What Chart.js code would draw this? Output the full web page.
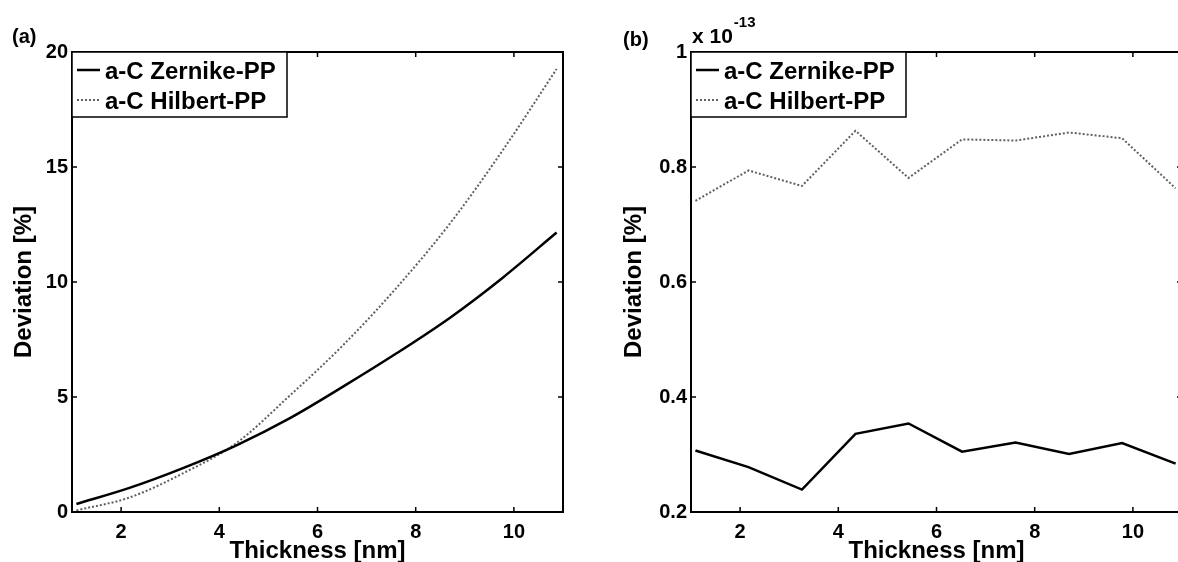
<!DOCTYPE html>
<html lang="en">
<head>
<meta charset="UTF-8">
<title>Deviation vs thickness</title>
<script src="https://cdn.jsdelivr.net/npm/chart.js"></script>
<style>
    html, body { margin: 0; padding: 0; background: #fff; overflow: hidden; }
    #wrap { position: relative; width: 1178px; height: 562px; overflow: hidden; }
    #chartA { position: absolute; left: 0; top: 0; }
    #chartB { position: absolute; left: 590px; top: 0; }
</style>
</head>
<body>
<div id="wrap">
    <canvas id="chartA" width="590" height="562"></canvas>
    <canvas id="chartB" width="600" height="562"></canvas>
</div>

<script>
    // thickness steps (nm)
    const thickness = [1.09, 2.17, 3.26, 4.35, 5.43, 6.52, 7.61, 8.70, 9.78, 10.87];

    // panel (a): deviation in %
    const zernikeA = [0.35, 1.05, 1.91, 2.90, 4.07, 5.45, 6.90, 8.45, 10.20, 12.15];
    const hilbertA = [0.07, 0.63, 1.68, 3.00, 5.05, 7.25, 9.75, 12.55, 15.75, 19.26];

    // panel (b): deviation in units of 1e-13 %
    const zernikeB = [0.307, 0.278, 0.239, 0.336, 0.354, 0.305, 0.321, 0.301, 0.320, 0.284];
    const hilbertB = [0.741, 0.794, 0.767, 0.863, 0.781, 0.848, 0.846, 0.860, 0.850, 0.763];
    const exponentB = -13;

    const xTicks = [2, 4, 6, 8, 10];
    const yTicksA = [0, 5, 10, 15, 20];
    const yTicksB = [0.2, 0.4, 0.6, 0.8, 1];

    const labels = ['a-C Zernike-PP', 'a-C Hilbert-PP'];

    Chart.defaults.font.family = '"Liberation Sans", Arial, sans-serif';
    Chart.defaults.font.weight = 'bold';
    Chart.defaults.color = '#000';

    // frame, inner ticks, legend box and panel tag, MATLAB style
    const matlabFrame = {
        id: 'matlabFrame',
        afterDatasetsDraw(chart, args, opts) {
            const { ctx, chartArea: a, scales: { x, y } } = chart;
            ctx.save();

            ctx.strokeStyle = '#000';
            ctx.lineWidth = 1.5;
            ctx.beginPath();
            x.ticks.forEach(t => {
                const px = x.getPixelForValue(t.value);
                ctx.moveTo(px, a.bottom); ctx.lineTo(px, a.bottom - 5);
                ctx.moveTo(px, a.top); ctx.lineTo(px, a.top + 5);
            });
            y.ticks.forEach(t => {
                const py = y.getPixelForValue(t.value);
                ctx.moveTo(a.left, py); ctx.lineTo(a.left + 5, py);
                ctx.moveTo(a.right, py); ctx.lineTo(a.right - 5, py);
            });
            ctx.stroke();

            ctx.lineWidth = 2;
            ctx.strokeRect(a.left, a.top, a.right - a.left, a.bottom - a.top);

            // legend
            const bx = a.left, by = a.top, bw = 215, bh = 65;
            ctx.fillStyle = '#fff';
            ctx.fillRect(bx, by, bw, bh);
            ctx.lineWidth = 1.5;
            ctx.strokeRect(bx, by, bw, bh);
            ctx.font = 'bold 24px "Liberation Sans", Arial, sans-serif';
            ctx.textBaseline = 'middle';
            ctx.textAlign = 'left';
            chart.data.datasets.forEach((ds, i) => {
                const ly = by + 18 + i * 30;
                ctx.beginPath();
                ctx.strokeStyle = ds.borderColor;
                ctx.lineWidth = ds.borderWidth;
                ctx.setLineDash(ds.borderDash || []);
                ctx.moveTo(bx + 5, ly);
                ctx.lineTo(bx + 28, ly);
                ctx.stroke();
                ctx.setLineDash([]);
                ctx.fillStyle = '#000';
                ctx.fillText(ds.label, bx + 33, ly + 2);
            });

            // panel tag
            ctx.font = 'bold 20px "Liberation Sans", Arial, sans-serif';
            ctx.textBaseline = 'alphabetic';
            ctx.fillStyle = '#000';
            ctx.fillText(opts.tag, opts.tagX, opts.tagY);

            if (opts.exponent !== undefined) {
                ctx.font = 'bold 21px "Liberation Sans", Arial, sans-serif';
                const base = 'x 10';
                ctx.fillText(base, a.left + 1, 43);
                const w = ctx.measureText(base).width;
                ctx.font = 'bold 15px "Liberation Sans", Arial, sans-serif';
                ctx.fillText(String(opts.exponent), a.left + 2 + w, 27);
            }
            ctx.restore();
        }
    };

    function makeChart(id, zData, hData, yMin, yMax, yTicks, yWidth, padRight, titlePad, tagOpts) {
        const config = {
            type: 'line',
            data: {
                datasets: [{
                    label: labels[0],
                    data: thickness.map((t, i) => ({ x: t, y: zData[i] })),
                    borderColor: '#000',
                    borderWidth: 2.5,
                    pointRadius: 0,
                    cubicInterpolationMode: tagOpts.smooth ? 'monotone' : 'default',
                    tension: 0
                },
                {
                    label: labels[1],
                    data: thickness.map((t, i) => ({ x: t, y: hData[i] })),
                    borderColor: '#606060',
                    borderWidth: 2,
                    borderDash: [2, 2],
                    pointRadius: 0,
                    cubicInterpolationMode: tagOpts.smooth ? 'monotone' : 'default',
                    tension: 0
                }]
            },
            options: {
                responsive: false,
                animation: false,
                layout: { padding: { left: 0, right: padRight, top: 52, bottom: 0 } },
                plugins: {
                    legend: { display: false },
                    tooltip: { enabled: false },
                    matlabFrame: tagOpts
                },
                scales: {
                    x: {
                        type: 'linear',
                        min: 1,
                        max: 11,
                        afterBuildTicks: s => { s.ticks = xTicks.map(v => ({ value: v })); },
                        afterFit: s => { s.height = 50; },
                        grid: { display: false, drawTicks: false },
                        border: { display: false },
                        ticks: { padding: 8, font: { size: 20, weight: 'bold' }, maxRotation: 0 },
                        title: {
                            display: true,
                            text: 'Thickness [nm]',
                            font: { size: 24, weight: 'bold', lineHeight: 1 },
                            padding: { top: 0, bottom: -1 }
                        }
                    },
                    y: {
                        min: yMin,
                        max: yMax,
                        afterBuildTicks: s => { s.ticks = yTicks.map(v => ({ value: v })); },
                        afterFit: s => { s.width = yWidth; },
                        grid: { display: false, drawTicks: false },
                        border: { display: false },
                        ticks: {
                            padding: 4,
                            font: { size: 20, weight: 'bold' },
                            callback: v => (Number.isInteger(v) ? String(v) : v.toFixed(1))
                        },
                        title: {
                            display: true,
                            text: 'Deviation [%]',
                            font: { size: 24, weight: 'bold', lineHeight: 1 },
                            padding: { top: titlePad, bottom: 0 }
                        }
                    }
                }
            },
            plugins: [matlabFrame]
        };
        return new Chart(document.getElementById(id), config);
    }

    makeChart('chartA', zernikeA, hilbertA, 0, 20, yTicksA, 72, 27, 12,
        { tag: '(a)', tagX: 12, tagY: 43, smooth: true });
    makeChart('chartB', zernikeB, hilbertB, 0.2, 1, yTicksB, 101, 8, 32,
        { tag: '(b)', tagX: 33, tagY: 46, exponent: exponentB, smooth: false });
</script>
</body>
</html>
